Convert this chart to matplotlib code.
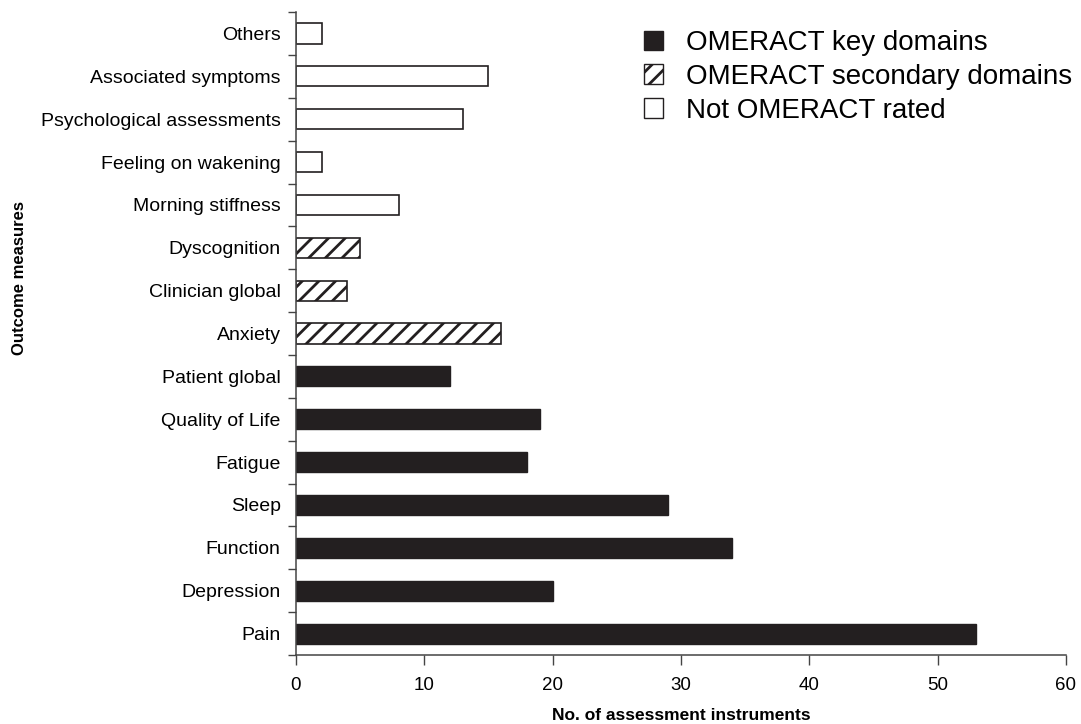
import matplotlib
matplotlib.use("Agg")
import matplotlib.pyplot as plt
from matplotlib.patches import Patch

plt.rcParams['font.family'] = ['Liberation Sans', 'DejaVu Sans']
plt.rcParams['hatch.linewidth'] = 2.0

# bottom to top
measures = ['Pain', 'Depression', 'Function', 'Sleep', 'Fatigue', 'Quality of Life',
            'Patient global', 'Anxiety', 'Clinician global', 'Dyscognition',
            'Morning stiffness', 'Feeling on wakening', 'Psychological assessments',
            'Associated symptoms', 'Others']
counts = [53, 20, 34, 29, 18, 19, 12, 16, 4, 5, 8, 2, 13, 15, 2]
groups = ['key'] * 7 + ['secondary'] * 3 + ['none'] * 5

legend_labels = ['OMERACT key domains', 'OMERACT secondary domains', 'Not OMERACT rated']
dark = '#231f20'

fig = plt.figure(figsize=(10.81, 7.24), dpi=100)
ax = fig.add_axes([0.2738, 0.0953, 0.7122, 0.888])

ypos = list(range(len(measures)))
for y, c, g in zip(ypos, counts, groups):
    if g == 'key':
        ax.barh(y, c, height=0.47, color=dark, edgecolor=dark, linewidth=1.0)
    elif g == 'secondary':
        ax.barh(y, c, height=0.47, color='white', edgecolor=dark, linewidth=1.2, hatch='//')
    else:
        ax.barh(y, c, height=0.47, color='white', edgecolor=dark, linewidth=1.2)

ax.set_xlim(0, 60)
ax.set_ylim(-0.5, len(measures) - 0.5)
ax.set_xticks(range(0, 61, 10))
ax.set_yticks(ypos)
ax.set_yticklabels(measures, fontsize=14)
ax.set_yticks([i - 0.5 for i in range(len(measures) + 1)], minor=True)
ax.tick_params(axis='y', which='major', length=0, pad=11)
ax.tick_params(axis='y', which='minor', length=6, width=1, color='#444444')
ax.tick_params(axis='x', length=7, width=1, pad=9, labelsize=13.5, color='#444444')

for s in ['top', 'right']:
    ax.spines[s].set_visible(False)
for s in ['left', 'bottom']:
    ax.spines[s].set_color('#444444')
    ax.spines[s].set_linewidth(1.1)

ax.set_xlabel('No. of assessment instruments', fontsize=12.5, fontweight='bold', labelpad=10)
fig.text(20 / 1081, 1 - 278 / 724, 'Outcome measures', rotation=90, fontsize=12,
         fontweight='bold', ha='center', va='center')

handles = [Patch(facecolor=dark, edgecolor=dark),
           Patch(facecolor='white', edgecolor=dark, hatch='//'),
           Patch(facecolor='white', edgecolor=dark)]
fig.legend(handles, legend_labels, loc='upper left', bbox_to_anchor=(644 / 1081, 1 - 30 / 724),
           frameon=False, fontsize=20, handlelength=0.7, handleheight=0.7,
           handletextpad=0.8, labelspacing=0.28, borderpad=0, borderaxespad=0)

fig.savefig('out.png', dpi=100)
